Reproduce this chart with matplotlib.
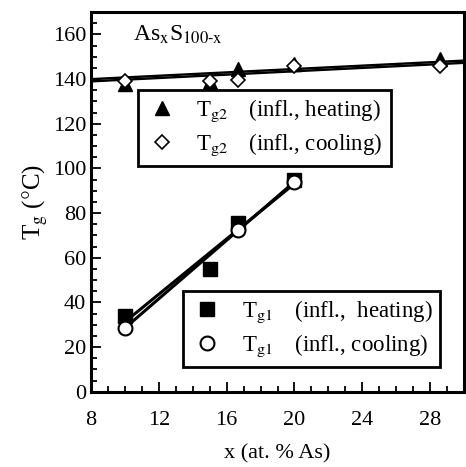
import numpy as np
import matplotlib
matplotlib.use("Agg")
import matplotlib.pyplot as plt
from matplotlib.ticker import MultipleLocator

plt.rcParams['font.family'] = ['Liberation Serif', 'DejaVu Serif']
plt.rcParams['mathtext.fontset'] = 'stix'

# data
x_g2 = [10, 15, 16.7, 20, 28.6]
tg2_heat = [138, 138.5, 144.5, 147, 149]
tg2_cool = [139, 139, 139.5, 146, 146]

x_g1_heat = [10, 15, 16.7, 20]
tg1_heat = [34, 55, 75.5, 95]
x_g1_cool = [10, 16.7, 20]
tg1_cool = [28.5, 72.5, 94]

# straight lines drawn for Tg2 in the figure (value at x=8, value at x=30)
line_g2_heat = [140.0, 148.3]
line_g2_cool = [139.0, 147.3]
line_x = [8, 30]

fig = plt.figure(figsize=(4.66, 4.67), dpi=100)
ax = fig.add_axes([0.195, 0.161, 0.801, 0.813])

ax.plot(line_x, line_g2_heat, color='black', lw=1.7)
ax.plot(line_x, line_g2_cool, color='black', lw=1.7)

# linear fits for Tg1
xs1 = np.array([10, 20])
for xd, yd in [(x_g1_heat, tg1_heat), (x_g1_cool, tg1_cool)]:
    p = np.polyfit(xd, yd, 1)
    ax.plot(xs1, np.polyval(p, xs1), color='black', lw=2.2)

h1, = ax.plot(x_g2, tg2_heat, '^', color='black', ms=10, ls='none')
h2, = ax.plot(x_g2, tg2_cool, 'D', mfc='white', mec='black', ms=7, mew=1.2, ls='none')
h3, = ax.plot(x_g1_heat, tg1_heat, 's', color='black', ms=10, ls='none')
h4, = ax.plot(x_g1_cool, tg1_cool, 'o', mfc='white', mec='black', ms=10, mew=1.5, ls='none')

kw = dict(loc='upper left', fontsize=16.5, frameon=True, fancybox=False,
          edgecolor='black', handletextpad=0.8, borderpad=0.35, labelspacing=0.3,
          handlelength=1.4, borderaxespad=0, framealpha=1)
leg1 = ax.legend([h1, h2], [r'T$_{\mathrm{g2}}\;\;\;\;\,$(infl., heating)',
                            r'T$_{\mathrm{g2}}\;\;\;\;\,$(infl., cooling)'],
                 bbox_to_anchor=(0.126, 0.795), **kw)
leg1.get_frame().set_linewidth(2)
ax.add_artist(leg1)
leg2 = ax.legend([h3, h4], [r'T$_{\mathrm{g1}}\;\;\;\;\,$(infl.,  heating)',
                            r'T$_{\mathrm{g1}}\;\;\;\;\,$(infl., cooling)'],
                 bbox_to_anchor=(0.247, 0.266), **kw)
leg2.get_frame().set_linewidth(2)

ax.text(0.113, 0.926, r'As$_{\mathrm{x}}$S$_{\mathrm{100\text{-}x}}$', transform=ax.transAxes,
        fontsize=17, va='baseline')

ax.set_xlim(8, 30)
ax.set_ylim(0, 170)
ax.xaxis.set_major_locator(MultipleLocator(4))
ax.xaxis.set_minor_locator(MultipleLocator(1))
ax.yaxis.set_major_locator(MultipleLocator(20))
ax.yaxis.set_minor_locator(MultipleLocator(5))
ax.tick_params(which='both', direction='in', labelsize=16, width=1.3)
ax.tick_params(which='major', length=7)
ax.tick_params(which='minor', length=4)
ax.tick_params(axis='x', pad=14)
for s in ax.spines.values():
    s.set_linewidth(2.2)

ax.set_xlabel('x (at. % As)', fontsize=16, labelpad=10)
ax.set_ylabel(r'T$_{\mathrm{g}}$ ($\degree$C)', fontsize=18, labelpad=2)

fig.savefig('out.png', dpi=100)
